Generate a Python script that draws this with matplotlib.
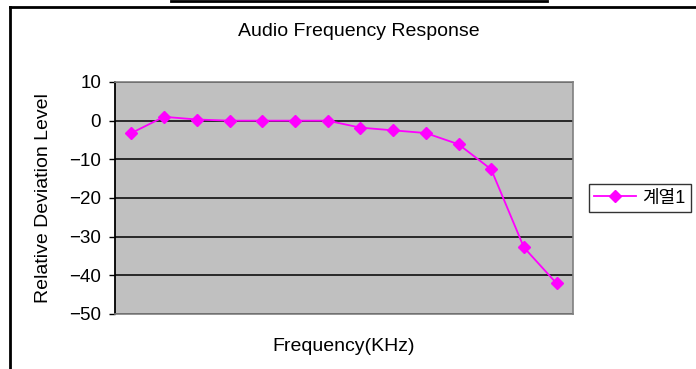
import matplotlib
matplotlib.use("Agg")
from matplotlib import pyplot as plt
from matplotlib.lines import Line2D

plt.rcParams['font.family'] = ['Liberation Sans', 'Noto Sans CJK KR', 'DejaVu Sans']
plt.rcParams['axes.unicode_minus'] = True

# relative level per frequency step (dB)
levels = [-3.2, 1.0, 0.3, 0.0, 0.0, 0.0, 0.0, -1.8, -2.5, -3.2, -6.1, -12.6, -32.8, -42.1]
steps = list(range(1, len(levels) + 1))
yticks = [10, 0, -10, -20, -30, -40, -50]
series_name = "계열1"

W, H = 696, 369
fig = plt.figure(figsize=(W / 100, H / 100), dpi=100)
ax = fig.add_axes([115 / W, 1 - 314 / H, (573 - 115) / W, (314 - 82) / H])
ax.set_facecolor("#c0c0c0")

ax.plot(steps, levels, color="#ff00ff", lw=1.3, marker="D", ms=6,
        markeredgecolor="#ff00ff", label=series_name, zorder=3)

ax.set_xlim(0.5, len(levels) + 0.5)
ax.set_ylim(-50, 10)
ax.set_yticks(yticks)
ax.set_yticklabels([f"{t}".replace("-", "\u2212") for t in yticks], fontsize=13.5)
ax.set_xticks([])
ax.yaxis.grid(True, color="black", lw=1.1)
ax.set_axisbelow(True)
ax.tick_params(axis="y", length=4, width=1, direction="out", pad=6)

for side in ("top", "right", "bottom"):
    ax.spines[side].set_color("#808080")
    ax.spines[side].set_linewidth(1.2)
ax.spines["left"].set_color("black")
ax.spines["left"].set_linewidth(1.3)

ax.set_ylabel("Relative Deviation Level", fontsize=14, labelpad=12)
ax.set_xlabel("Frequency(KHz)", fontsize=14, labelpad=17)
fig.text(359 / W, 1 - 31 / H, "Audio Frequency Response", fontsize=14,
         ha="center", va="center")

leg = ax.legend(loc="center left", bbox_to_anchor=(589 / W, 1 - 198 / H),
                bbox_transform=fig.transFigure, fontsize=13, frameon=True,
                fancybox=False, handlelength=2.3, borderpad=0.3,
                handletextpad=0.35, borderaxespad=0)
leg.get_frame().set_edgecolor("black")
leg.get_frame().set_linewidth(1.0)

# outer chart frame and the rule above it
fig.add_artist(Line2D([10 / W, 10 / W], [0, 1 - 7 / H], color="black", lw=2,
                      transform=fig.transFigure))
fig.add_artist(Line2D([10 / W, 1], [1 - 7 / H, 1 - 7 / H], color="black", lw=2,
                      transform=fig.transFigure))
fig.add_artist(Line2D([171 / W, 547 / W], [1 - 1 / H, 1 - 1 / H], color="black",
                      lw=2, transform=fig.transFigure))

fig.savefig("out.png", dpi=100)
